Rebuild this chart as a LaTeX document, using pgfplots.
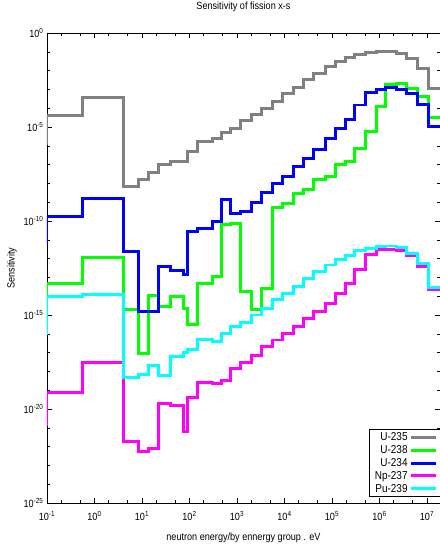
\documentclass[border=0pt]{standalone}
\usepackage{fontspec}
\setmainfont{Liberation Sans}[FakeStretch=0.87]
\usepackage{pgfplots}
\usepackage{pgfplotstable}
\pgfplotsset{compat=1.18}
\definecolor{cgray}{RGB}{128,128,128}
\definecolor{cgreen}{RGB}{0,255,0}
\definecolor{cblue}{RGB}{0,0,255}
\definecolor{cmag}{RGB}{255,0,255}
\definecolor{ccyan}{RGB}{0,255,255}
\pgfplotstableread{
E U235 U238 U234 Np237 Pu239
0.05 1.35e-6 3.16e-16 6.76e-12 1.41e-21 1.10e-16
0.1 3.89e-5 4.90e-14 1.70e-10 7.41e-20 9.33e-15
0.55 3.80e-4 1.12e-12 1.62e-9 3.02e-18 1.26e-14
4.0 7.24e-9 1.86e-15 2.51e-12 1.82e-22 5.01e-19
8.35 1.66e-8 9.12e-18 1.62e-15 5.37e-23 6.46e-19
13.6 3.72e-8 1.15e-14 1.62e-15 8.13e-23 1.95e-18
22 9.55e-8 2.75e-15 3.72e-13 1.86e-20 5.75e-19
39.8 1.41e-7 9.33e-15 2.45e-13 1.45e-20 6.03e-18
74 1.41e-7 2.29e-15 1.51e-13 6.17e-22 9.77e-18
91.6 4.90e-7 2.95e-16 2.69e-11 4.17e-20 1.55e-17
151 1.66e-6 4.90e-14 4.07e-11 2.51e-19 5.25e-17
305 2.51e-6 1.17e-13 9.12e-11 2.14e-19 3.89e-17
476 5.01e-6 6.17e-11 1.32e-9 3.47e-19 1.07e-16
713 8.51e-6 7.76e-11 2.57e-10 1.45e-18 2.40e-16
1.2e3 2.19e-5 1.74e-14 3.39e-10 3.16e-18 3.89e-16
2.04e3 4.37e-5 2.00e-15 9.33e-10 7.41e-18 1.00e-15
3.31e3 9.77e-5 2.63e-14 3.24e-9 2.00e-17 2.29e-15
5.59e3 2.24e-4 5.37e-10 1.02e-8 4.68e-17 6.31e-15
9.16e3 5.75e-4 8.71e-10 2.45e-8 1.07e-16 1.32e-14
1.53e4 1.29e-3 2.95e-9 7.76e-8 2.57e-16 3.47e-14
2.49e4 3.47e-3 4.47e-9 2.19e-7 6.61e-16 8.91e-14
4.18e4 7.24e-3 1.66e-8 6.03e-7 1.51e-15 2.00e-13
7.13e4 1.62e-2 2.29e-8 2.51e-6 4.17e-15 4.57e-13
1.16e5 2.95e-2 9.55e-8 8.51e-6 1.32e-14 8.51e-13
1.88e5 5.13e-2 1.41e-7 2.57e-5 4.47e-14 1.55e-12
3.05e5 7.59e-2 7.41e-7 1.48e-4 2.69e-13 2.63e-12
5.07e5 8.91e-2 5.62e-6 6.61e-4 1.74e-12 3.55e-12
8.73e5 0.102 1.20e-4 1.02e-3 2.88e-12 4.27e-12
1.34e6 0.102 1.86e-3 1.26e-3 3.09e-12 4.68e-12
2.30e6 8.32e-2 2.09e-3 1.02e-3 2.63e-12 3.80e-12
3.74e6 4.47e-2 1.15e-3 6.17e-4 1.38e-12 1.91e-12
6.31e6 1.32e-2 4.07e-4 1.66e-4 3.72e-13 5.62e-13
1.07e7 1.15e-3 3.31e-5 1.05e-5 2.34e-14 2.95e-14
1.88e7 1.15e-3 3.31e-5 1.05e-5 2.34e-14 2.95e-14
}\sens
\begin{document}
\begin{tikzpicture}
\begin{axis}[
  name=ax,
  scale only axis, width=393bp, height=470bp,
  xmode=log, ymode=log,
  xmin=0.1, xmax=1.88e7, ymin=1e-25, ymax=1,
  xtick={0.1,1,10,100,1000,1e4,1e5,1e6,1e7},
  xticklabels={10\textsuperscript{-1},10\textsuperscript{0},10\textsuperscript{1},10\textsuperscript{2},10\textsuperscript{3},10\textsuperscript{4},10\textsuperscript{5},10\textsuperscript{6},10\textsuperscript{7}},
  ytick={1e-25,1e-20,1e-15,1e-10,1e-5,1},
  yticklabels={10\textsuperscript{-25},10\textsuperscript{-20},10\textsuperscript{-15},10\textsuperscript{-10},10\textsuperscript{-5},10\textsuperscript{0}},
  minor xtick={0.2,0.5,2,5,20,50,200,500,2e3,5e3,2e4,5e4,2e5,5e5,2e6,5e6},
  minor ytick={1e-1,1e-2,1e-3,1e-4,1e-6,1e-7,1e-8,1e-9,1e-11,1e-12,1e-13,1e-14,1e-16,1e-17,1e-18,1e-19,1e-21,1e-22,1e-23,1e-24},
  tick align=inside,
  major tick length=5bp, minor tick length=3bp,
  every tick/.style={black, line width=0.6pt},
  axis line style={line width=0.8pt},
  tick label style={font=\fontsize{10.5}{12}\selectfont},
  xticklabel style={yshift=-5bp},
  title={Sensitivity of fission x-s},
  title style={at={(axis description cs:0.5,1)}, anchor=center, yshift=20bp, font=\fontsize{10.5}{12}\selectfont},
  xlabel={neutron energy/by ennergy group . eV},
  xlabel style={at={(axis description cs:0.5,-0.073)}, anchor=center, font=\fontsize{10.5}{12}\selectfont},
  ylabel={Sensitivity},
  ylabel style={at={(axis description cs:-0.089,0.5)}, anchor=center, font=\fontsize{10.5}{12}\selectfont},
  legend style={at={(axis description cs:1,0)}, anchor=south east, yshift=6bp, xshift=1bp,
    draw=black, line width=0.9pt, fill=white, font=\fontsize{11.5}{12}\selectfont,
    inner xsep=3bp, inner ysep=1bp, row sep=-0.6bp,
    /tikz/every even column/.append style={column sep=4bp}},
  legend plot pos=right,
  legend cell align=right,
  legend image code/.code={\draw[#1, line width=3pt] (0bp,0bp) -- (25bp,0bp);},
  every axis plot/.append style={const plot mark left, line width=3pt, no marks},
]
\addplot[cgray] table[x=E, y=U235] {\sens};
\addlegendentry{U-235}
\addplot[cgreen] table[x=E, y=U238] {\sens};
\addlegendentry{U-238}
\addplot[cblue] table[x=E, y=U234] {\sens};
\addlegendentry{U-234}
\addplot[cmag] table[x=E, y=Np237] {\sens};
\addlegendentry{Np-237}
\addplot[ccyan] table[x=E, y=Pu239] {\sens};
\addlegendentry{Pu-239}
\end{axis}
\pgfresetboundingbox
\path[use as bounding box] ([xshift=-47bp,yshift=-45bp]ax.south west) rectangle ([yshift=33bp]ax.north east);
\end{tikzpicture}
\end{document}
